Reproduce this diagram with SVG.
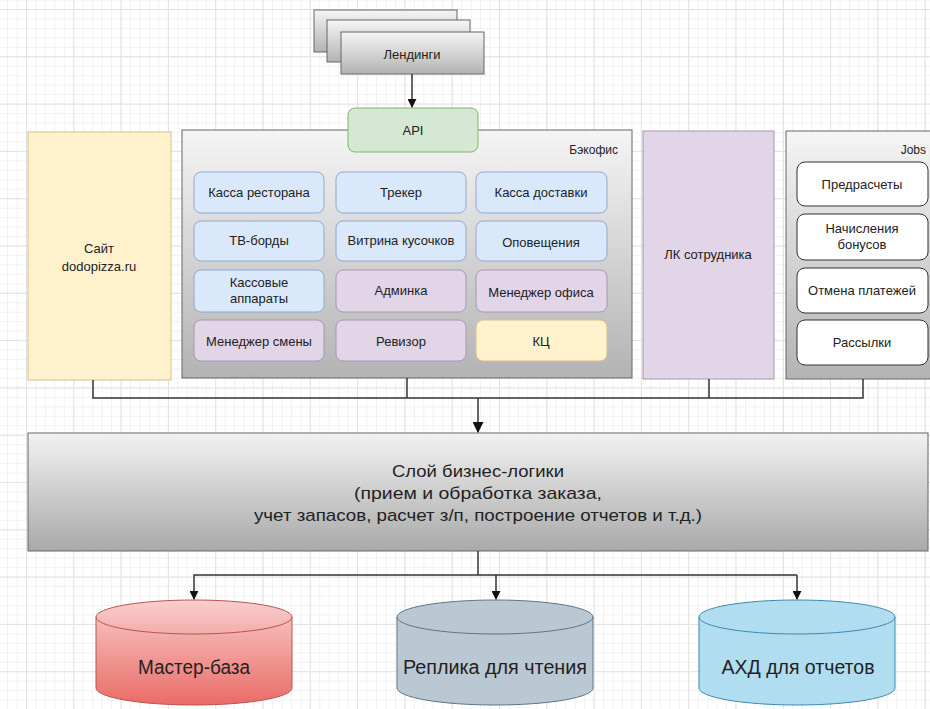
<svg xmlns="http://www.w3.org/2000/svg" width="930" height="709" viewBox="0 0 930 709">
<defs>
<pattern id="minor" width="9.46" height="9.46" patternUnits="userSpaceOnUse" x="26" y="9">
<path d="M0,0.5 H9.46 M0.5,0 V9.46" fill="none" stroke="#f1f1f1" stroke-width="1"/>
</pattern>
<pattern id="major" width="47.3" height="47.3" patternUnits="userSpaceOnUse" x="26" y="9">
<path d="M0,0.5 H47.3 M0.5,0 V47.3" fill="none" stroke="#e2e2e2" stroke-width="1"/>
</pattern>
<linearGradient id="gray" x1="0" y1="0" x2="0" y2="1">
<stop offset="0" stop-color="#f5f5f5"/>
<stop offset="1" stop-color="#b3b3b3"/>
</linearGradient>
<linearGradient id="grayH" x1="0" y1="0" x2="0" y2="1">
<stop offset="0" stop-color="#f2f2f2"/>
<stop offset="1" stop-color="#a9a9a9"/>
</linearGradient>
<linearGradient id="red" x1="0" y1="0" x2="0" y2="1">
<stop offset="0" stop-color="#f8cecc"/>
<stop offset="1" stop-color="#ea6b66"/>
</linearGradient>
<marker id="arr" viewBox="0 0 10 10" refX="9" refY="5" markerWidth="9" markerHeight="9" markerUnits="userSpaceOnUse" orient="auto">
<path d="M0,0 L10,5 L0,10 Z" fill="#111"/>
</marker>
<marker id="arrB" viewBox="0 0 10 10" refX="9" refY="5" markerWidth="11" markerHeight="11" markerUnits="userSpaceOnUse" orient="auto">
<path d="M0,0 L10,5 L0,10 Z" fill="#111"/>
</marker>
</defs>
<style>
text{font-family:"Liberation Sans",Arial,sans-serif;fill:#222;}
.t13{font-size:13px;text-anchor:middle;}
.blue{fill:#dae8fc;stroke:#8fa8cf;stroke-width:1;}
.purple{fill:#e1d5e7;stroke:#a895b3;stroke-width:1;}
.yellow{fill:#fff2cc;stroke:#d6c08a;stroke-width:1;}
.job{fill:#ffffff;stroke:#333;stroke-width:1;}
.cont{fill:url(#gray);stroke:#666;stroke-width:1;}
.conn{fill:none;stroke:#333;stroke-width:1.5;}
.narrow{font-size:20px;text-anchor:middle;}
.biz{font-size:17px;text-anchor:middle;}
</style>
<rect width="930" height="709" fill="#ffffff"/>
<rect width="930" height="709" fill="url(#minor)"/>
<rect width="930" height="709" fill="url(#major)"/>

<g id="landings">
<rect x="314" y="10" width="143" height="42" fill="url(#gray)" stroke="#666"/>
<rect x="327" y="20" width="143" height="42" fill="url(#gray)" stroke="#666"/>
<rect x="341" y="32" width="143" height="42" fill="url(#gray)" stroke="#666"/>
<text class="t13" x="412" y="59" font-size="12">Лендинги</text>
</g>

<g id="site">
<rect x="28" y="132" width="143" height="248" class="yellow"/>
<text class="t13" x="99" y="253">Сайт</text>
<text class="t13" x="99" y="271">dodopizza.ru</text>
</g>

<g id="backoffice">
<rect x="182" y="130" width="450" height="248" class="cont"/>
<text x="618" y="154" font-size="12" text-anchor="end">Бэкофис</text>
</g>

<g id="api">
<rect x="348" y="108" width="130" height="44" rx="7" fill="#d5e8d4" stroke="#82b366"/>
<text class="t13" x="413" y="135">API</text>
</g>

<g id="kassa-restorana"><rect x="194" y="172" width="130" height="41" rx="7" class="blue"/><text class="t13" x="259" y="197">Касса ресторана</text></g>
<g id="treker"><rect x="336" y="172" width="130" height="41" rx="7" class="blue"/><text class="t13" x="401" y="197">Трекер</text></g>
<g id="kassa-dostavki"><rect x="476" y="172" width="131" height="41" rx="7" class="blue"/><text class="t13" x="541" y="197">Касса доставки</text></g>

<g id="tv-bordy"><rect x="194" y="221" width="130" height="40" rx="7" class="blue"/><text class="t13" x="259" y="245">ТВ-борды</text></g>
<g id="vitrina"><rect x="336" y="221" width="130" height="40" rx="7" class="blue"/><text class="t13" x="401" y="245">Витрина кусочков</text></g>
<g id="opovescheniya"><rect x="476" y="221" width="131" height="40" rx="7" class="blue"/><text class="t13" x="541" y="247">Оповещения</text></g>

<g id="kassovye"><rect x="194" y="270" width="130" height="42" rx="7" class="blue"/><text class="t13" x="259" y="287">Кассовые</text><text class="t13" x="259" y="303">аппараты</text></g>
<g id="adminka"><rect x="336" y="270" width="130" height="42" rx="7" class="purple"/><text class="t13" x="401" y="295">Админка</text></g>
<g id="menedzher-ofisa"><rect x="476" y="270" width="131" height="42" rx="7" class="purple"/><text class="t13" x="541" y="297">Менеджер офиса</text></g>

<g id="menedzher-smeny"><rect x="194" y="320" width="130" height="41" rx="7" class="purple"/><text class="t13" x="259" y="346">Менеджер смены</text></g>
<g id="revizor"><rect x="336" y="320" width="130" height="41" rx="7" class="purple"/><text class="t13" x="401" y="346">Ревизор</text></g>
<g id="kc"><rect x="476" y="320" width="131" height="41" rx="7" class="yellow"/><text class="t13" x="541" y="346">КЦ</text></g>

<g id="lk">
<rect x="643" y="131" width="131" height="248" class="purple"/>
<text class="t13" x="708" y="259">ЛК сотрудника</text>
</g>

<g id="jobs">
<rect x="786" y="131" width="150" height="248" class="cont"/>
<text x="926" y="154" font-size="12" text-anchor="end">Jobs</text>
</g>
<g id="predraschety"><rect x="797" y="162" width="131" height="44" rx="8" class="job"/><text class="t13" x="862" y="189">Предрасчеты</text></g>
<g id="bonusy"><rect x="797" y="214" width="131" height="46" rx="8" class="job"/><text class="t13" x="862" y="233">Начисления</text><text class="t13" x="862" y="249">бонусов</text></g>
<g id="otmena"><rect x="797" y="268" width="131" height="45" rx="8" class="job"/><text class="t13" x="862" y="295">Отмена платежей</text></g>
<g id="rassylki"><rect x="797" y="320" width="131" height="45" rx="8" class="job"/><text class="t13" x="862" y="347">Рассылки</text></g>

<g id="business">
<rect x="28" y="433" width="900" height="118" fill="url(#grayH)" stroke="#666"/>
<text class="biz" x="478" y="477" textLength="172" lengthAdjust="spacingAndGlyphs">Слой бизнес-логики</text>
<text class="biz" x="478" y="499" textLength="248" lengthAdjust="spacingAndGlyphs">(прием и обработка заказа,</text>
<text class="biz" x="478" y="521" textLength="448" lengthAdjust="spacingAndGlyphs">учет запасов, расчет з/п, построение отчетов и т.д.)</text>
</g>

<g id="master">
<path d="M96,617 A98,17 0 0 1 292,617 L292,688 A98,17 0 0 1 96,688 Z" fill="url(#red)" stroke="#b85450"/>
<path d="M96,617 A98,17 0 0 0 292,617" fill="none" stroke="#b85450"/>
<text class="narrow" x="194" y="674" textLength="112" lengthAdjust="spacingAndGlyphs">Мастер-база</text>
</g>
<g id="replica">
<path d="M397,617 A98,17 0 0 1 593,617 L593,688 A98,17 0 0 1 397,688 Z" fill="#bac8d3" stroke="#5f7585"/>
<path d="M397,617 A98,17 0 0 0 593,617" fill="none" stroke="#5f7585"/>
<text class="narrow" x="495" y="674" textLength="184" lengthAdjust="spacingAndGlyphs">Реплика для чтения</text>
</g>
<g id="ahd">
<path d="M699,617 A98,17 0 0 1 895,617 L895,688 A98,17 0 0 1 699,688 Z" fill="#b1ddf0" stroke="#3d8ab0"/>
<path d="M699,617 A98,17 0 0 0 895,617" fill="none" stroke="#3d8ab0"/>
<text class="narrow" x="798" y="674" textLength="153" lengthAdjust="spacingAndGlyphs">АХД для отчетов</text>
</g>

<g id="connectors">
<path class="conn" d="M412,74 V107" marker-end="url(#arr)"/>
<path class="conn" d="M93,380 V398 H863 V379"/>
<path class="conn" d="M407,378 V398"/>
<path class="conn" d="M709,379 V398"/>
<path class="conn" d="M478,398 V432" marker-end="url(#arrB)"/>
<path class="conn" d="M478,551 V575"/>
<path class="conn" d="M797,575 H194 V599" marker-end="url(#arr)"/>
<path class="conn" d="M797,575 V599" marker-end="url(#arr)"/>
<path class="conn" d="M496,575 V599" marker-end="url(#arr)"/>
</g>
</svg>
